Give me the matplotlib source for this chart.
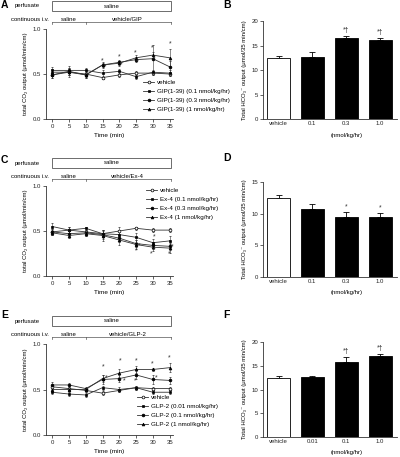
import numpy as np
import matplotlib.pyplot as plt
from matplotlib import transforms
from matplotlib.patches import Rectangle
from matplotlib.lines import Line2D

plt.rcParams['font.family'] = ['Liberation Sans', 'DejaVu Sans']

W, H = 400, 457
time = [0, 5, 10, 15, 20, 25, 30, 35]

# ---- A: GIP time course ----
gip_labels = ['vehicle', 'GIP(1-39) (0.1 nmol/kg/hr)', 'GIP(1-39) (0.3 nmol/kg/hr)', 'GIP(1-39) (1 nmol/kg/hr)']
gip_mean = [[0.49, 0.52, 0.50, 0.46, 0.49, 0.51, 0.51, 0.50],
            [0.54, 0.54, 0.54, 0.51, 0.53, 0.47, 0.52, 0.51],
            [0.49, 0.53, 0.49, 0.60, 0.63, 0.66, 0.67, 0.58],
            [0.52, 0.52, 0.49, 0.60, 0.62, 0.68, 0.71, 0.68]]
gip_err = [[0.03, 0.03, 0.03, 0.02, 0.02, 0.02, 0.02, 0.02],
           [0.04, 0.05, 0.03, 0.04, 0.03, 0.02, 0.03, 0.03],
           [0.03, 0.04, 0.03, 0.02, 0.03, 0.03, 0.15, 0.07],
           [0.04, 0.05, 0.03, 0.03, 0.03, 0.03, 0.04, 0.10]]
gip_star_x = [15, 15.8, 19.9, 20.7, 24.8, 25.3, 29.8, 30.3, 35.1]
gip_star_y = [0.65, 0.58, 0.69, 0.60, 0.74, 0.63, 0.79, 0.67, 0.83]

gip_bar_labels = ['vehicle', '0.1', '0.3', '1.0']
gip_bar_mean = [12.4, 12.6, 16.5, 16.1]
gip_bar_err = [0.4, 1.1, 0.4, 0.5]
gip_bar_sig = ['', '', '*†', '*†']

# ---- C: Ex-4 time course ----
ex_labels = ['vehicle', 'Ex-4 (0.1 nmol/kg/hr)', 'Ex-4 (0.3 nmol/kg/hr)', 'Ex-4 (1 nmol/kg/hr)']
ex_mean = [[0.49, 0.51, 0.49, 0.47, 0.50, 0.53, 0.51, 0.51],
           [0.55, 0.51, 0.53, 0.47, 0.46, 0.43, 0.37, 0.39],
           [0.49, 0.47, 0.48, 0.46, 0.42, 0.36, 0.34, 0.33],
           [0.48, 0.45, 0.47, 0.45, 0.40, 0.35, 0.32, 0.31]]
ex_err = [[0.03, 0.03, 0.02, 0.03, 0.04, 0.02, 0.02, 0.02],
          [0.04, 0.04, 0.02, 0.04, 0.04, 0.05, 0.04, 0.06],
          [0.03, 0.03, 0.03, 0.05, 0.04, 0.04, 0.04, 0.04],
          [0.02, 0.03, 0.03, 0.06, 0.05, 0.05, 0.04, 0.05]]
ex_star_x = [25.8, 25.0, 30.5, 30.5, 29.6, 35.8, 35.0]
ex_star_y = [0.33, 0.28, 0.43, 0.29, 0.25, 0.32, 0.25]

ex_bar_labels = ['vehicle', '0.1', '0.3', '1.0']
ex_bar_mean = [12.5, 10.8, 9.4, 9.4]
ex_bar_err = [0.5, 0.7, 0.8, 0.7]
ex_bar_sig = ['', '', '*', '*']

# ---- E: GLP-2 time course ----
glp_labels = ['vehicle', 'GLP-2 (0.01 nmol/kg/hr)', 'GLP-2 (0.1 nmol/kg/hr)', 'GLP-2 (1 nmol/kg/hr)']
glp_mean = [[0.53, 0.51, 0.49, 0.46, 0.49, 0.52, 0.51, 0.51],
            [0.47, 0.45, 0.44, 0.52, 0.50, 0.52, 0.47, 0.47],
            [0.55, 0.55, 0.51, 0.61, 0.62, 0.66, 0.61, 0.60],
            [0.50, 0.50, 0.50, 0.62, 0.68, 0.72, 0.72, 0.74]]
glp_err = [[0.02, 0.02, 0.02, 0.02, 0.02, 0.02, 0.02, 0.02],
           [0.02, 0.02, 0.02, 0.02, 0.03, 0.02, 0.02, 0.02],
           [0.03, 0.02, 0.02, 0.05, 0.04, 0.04, 0.05, 0.04],
           [0.03, 0.02, 0.02, 0.04, 0.04, 0.04, 0.02, 0.05]]
glp_star_x = [15.1, 16.0, 20.2, 21.4, 25.0, 24.8, 29.8, 31.0, 34.9]
glp_star_y = [0.75, 0.63, 0.81, 0.60, 0.81, 0.60, 0.78, 0.63, 0.85]

glp_bar_labels = ['vehicle', '0.01', '0.1', '1.0']
glp_bar_mean = [12.5, 12.7, 15.8, 17.0]
glp_bar_err = [0.4, 0.2, 1.0, 0.5]
glp_bar_sig = ['', '', '*†', '*†']

markers = ['o', 's', 'o', '^']
faces = ['white', 'black', 'black', 'black']
FS = 4.3
LC = '#333333'

fig = plt.figure(figsize=(W / 100, H / 100), dpi=100)


def add_ax(l, t, r, b):
    return fig.add_axes([l / W, 1 - b / H, (r - l) / W, (b - t) / H])


def style(ax):
    for s in ['top', 'right']:
        ax.spines[s].set_visible(False)
    for s in ['left', 'bottom']:
        ax.spines[s].set_linewidth(0.6)
        ax.spines[s].set_color(LC)
    ax.tick_params(labelsize=FS, length=2, width=0.5, pad=1.5, colors='#222222')


def line_panel(top, bot, letter, letter_y, drug, means, errs, labels, sx, sy, leg_xy):
    ax = add_ax(45.5, top, 173, bot)
    style(ax)
    handles = []
    for m, e, lab, mk, fc in zip(means, errs, labels, markers, faces):
        ax.errorbar(time, m, yerr=e, color=LC, lw=0.6, marker=mk, ms=2.0,
                    mfc=fc, mec='black', mew=0.5, capsize=1.0, elinewidth=0.4,
                    capthick=0.4, clip_on=False)
        handles.append(Line2D([], [], color=LC, lw=0.6, marker=mk, ms=2.0,
                              mfc=fc, mec='black', mew=0.5, label=lab))
    for x, y in zip(sx, sy):
        ax.text(x, y, '*', fontsize=5, ha='center', va='center', color='#333333')
    ax.set_xlim(-2, 36)
    ax.set_ylim(0, 1.0)
    ax.set_xticks(time)
    ax.set_yticks([0, 0.5, 1.0])
    ax.set_yticklabels(['0.0', '0.5', '1.0'])
    ax.set_xlabel('Time (min)', fontsize=FS + 0.3, labelpad=3)
    ax.set_ylabel('total CO₂ output (μmol/min/cm)', fontsize=FS, labelpad=3)
    ax.legend(handles=handles, loc='upper left', fontsize=FS + 0.2, frameon=False,
              bbox_to_anchor=(leg_xy[0] / W, 1 - leg_xy[1] / H),
              bbox_transform=fig.transFigure, handlelength=1.8, handletextpad=0.5,
              labelspacing=0.55, borderpad=0, borderaxespad=0)

    # header: perfusate box and continuous i.v. bracket
    tr = transforms.blended_transform_factory(ax.transData, fig.transFigure)
    bt = top - 28
    bb = top - 18
    box = Rectangle((0, 1 - bb / H), 35.5, (bb - bt) / H, transform=tr,
                    fill=False, lw=0.6, ec='#555555', clip_on=False)
    fig.add_artist(box)
    ax.text(17.75, 1 - (bt + bb) / 2 / H, 'saline', transform=tr, fontsize=FS,
            ha='center', va='center')
    fig.text(15 / W, 1 - (bt + bb) / 2 / H, 'perfusate', fontsize=FS,
             ha='left', va='center')
    ly = 1 - (top - 7) / H
    ax.plot([0, 35.5], [ly, ly], transform=tr, color='#555555', lw=0.5, clip_on=False)
    for xx in [0, 10, 35.5]:
        ax.plot([xx, xx], [ly, ly - 1.5 / H], transform=tr, color='#555555', lw=0.5,
                clip_on=False)
    ax.text(5, ly + 0.5 / H, 'saline', transform=tr, fontsize=FS, ha='center', va='bottom')
    ax.text(22.5, ly + 0.5 / H, 'vehicle/' + drug, transform=tr, fontsize=FS,
            ha='center', va='bottom')
    fig.text(49 / W, ly + 2.5 / H, 'continuous i.v.', fontsize=FS, ha='right', va='center')
    fig.text(1 / W, 1 - letter_y / H, letter, fontsize=7.5, fontweight='bold',
             ha='left', va='center')
    return ax


def bar_panel(top, bot, letter, letter_y, ymax, yticks, labels, means, errs, sig):
    ax = add_ax(263, top, 397, bot)
    style(ax)
    x = np.arange(len(labels))
    ax.bar(x, means, width=0.68, color=['white', 'black', 'black', 'black'],
           edgecolor='black', linewidth=0.6, zorder=2)
    ax.errorbar(x, means, yerr=[np.zeros(len(errs)), errs], fmt='none',
                ecolor='black', elinewidth=0.6, capsize=2.5, capthick=0.6, zorder=1)
    for xi, m, e, s in zip(x, means, errs, sig):
        if s:
            ax.text(xi, m + e + ymax * 0.02, s, fontsize=FS + 0.5, ha='center',
                    va='bottom', color='#333333')
    ax.set_xlim(-0.46, 3.5)
    ax.set_ylim(0, ymax)
    ax.set_yticks(yticks)
    ax.set_xticks(x)
    ax.set_xticklabels(labels)
    ax.tick_params(axis='x', length=0)
    ax.text(2, -ymax * 0.14, '(nmol/kg/hr)', fontsize=FS, ha='center', va='top')
    ax.set_ylabel('Total HCO₃⁻ output (μmol/35 min/cm)', fontsize=FS, labelpad=3)
    fig.text(223 / W, 1 - letter_y / H, letter, fontsize=7.5, fontweight='bold',
             ha='left', va='center')
    return ax


line_panel(29, 119, 'A', 5, 'GIP', gip_mean, gip_err, gip_labels,
           gip_star_x, gip_star_y, (143, 80))
bar_panel(21, 119, 'B', 5, 20, [0, 5, 10, 15, 20], gip_bar_labels, gip_bar_mean,
          gip_bar_err, gip_bar_sig)

line_panel(186, 276, 'C', 160, 'Ex-4', ex_mean, ex_err, ex_labels,
           ex_star_x, ex_star_y, (146, 188))
bar_panel(182, 277, 'D', 158, 15, [0, 5, 10, 15], ex_bar_labels, ex_bar_mean,
          ex_bar_err, ex_bar_sig)

line_panel(344, 435, 'E', 315, 'GLP-2', glp_mean, glp_err, glp_labels,
           glp_star_x, glp_star_y, (137, 395))
bar_panel(342, 437, 'F', 315, 20, [0, 5, 10, 15, 20], glp_bar_labels, glp_bar_mean,
          glp_bar_err, glp_bar_sig)

fig.savefig('out.png', dpi=100)
